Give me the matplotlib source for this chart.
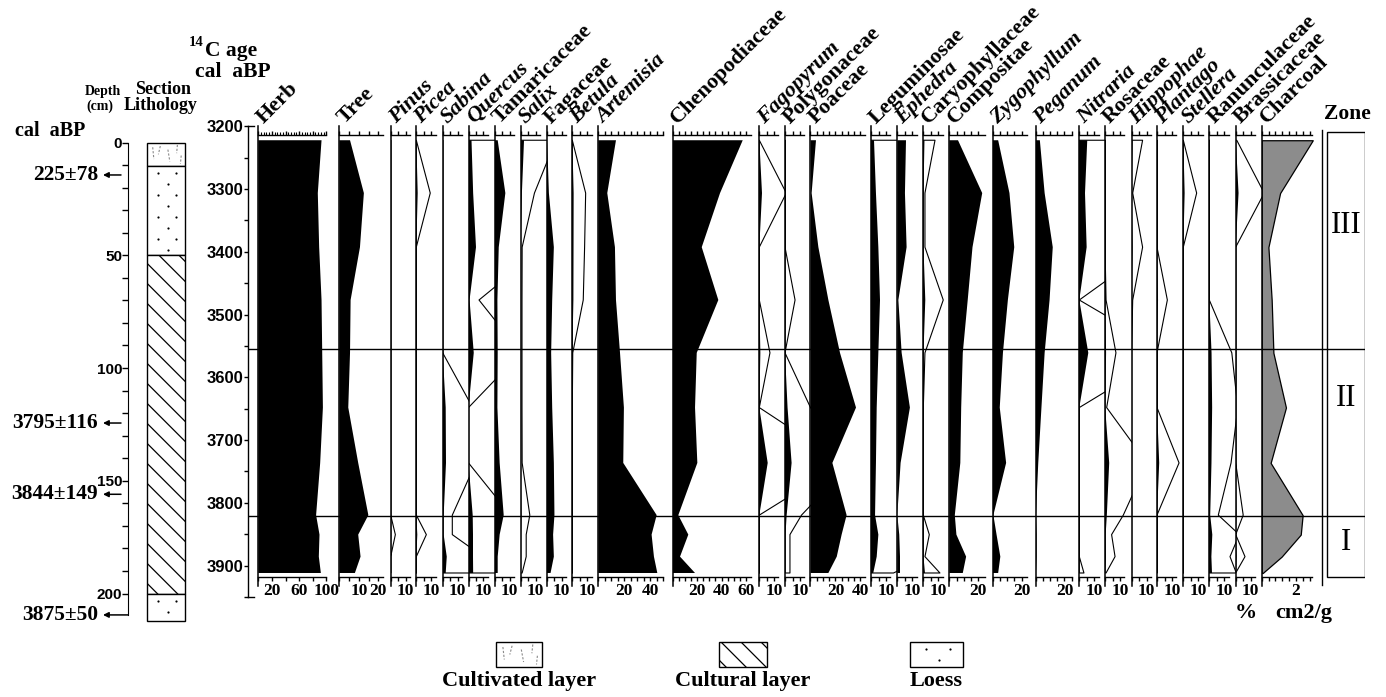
import numpy as np
import matplotlib
matplotlib.use("Agg")
import matplotlib.pyplot as plt
from matplotlib.patches import Rectangle

plt.rcParams["font.family"] = ["Liberation Serif", "DejaVu Serif"]
plt.rcParams["font.weight"] = "bold"

# ---------------- data ----------------
# sample ages (cal aBP)
ages = [3222, 3306, 3392, 3476, 3560, 3647, 3735, 3818, 3849, 3884, 3910]

# pollen percentages per sample
herb = [93.0, 87.5, 89.5, 93.0, 94.0, 95.0, 91.0, 85.0, 90.0, 89.0, 92.0]
tree = [5.5, 12.6, 10.6, 5.8, 5.5, 4.6, 9.7, 14.9, 9.7, 10.9, 8.0]
pinus = [0, 0, 0, 0, 0, 0, 0, 0, 0.31, 0, 0]
picea = [0, 0.93, 0, 0, 0, 0, 0, 0, 0.67, 0, 0]
sabina = [0, 0, 0, 0, 0, 2.0, 2.2, 0.64, 0.64, 2.7, 2.0]
quercus = [2.0, 3.1, 5.0, 0.7, 3.5, 0, 0, 2.8, 3.0, 3.0, 3.1]
tamaricaceae = [2.0, 7.1, 2.7, 1.8, 2.0, 1.8, 3.3, 6.0, 3.3, 2.0, 2.0]
salix = [2.35, 0.93, 0.11, 0.1, 0.1, 0.1, 0.11, 0.62, 0.38, 0.38, 0.11]
fagaceae = [0.4, 1.6, 4.9, 3.8, 3.1, 3.8, 4.9, 5.3, 4.4, 4.9, 2.7]
betula = [0, 0.89, 0.82, 0.73, 0.03, 0, 0, 0, 0, 0, 0]
artemisia = [13.6, 6.9, 12.8, 13.6, 16.7, 19.7, 19.2, 44.9, 41.0, 42.8, 45.4]
chenopodiaceae = [57.4, 38.8, 23.8, 37.4, 19.7, 18.3, 20.2, 4.6, 12.8, 6.0, 18.3]
fagopyrum = [0, 1.8, 0, 0, 0.71, 0, 5.6, 0, 0, 0, 0]
polygonaceae = [0, 0, 0, 0.67, 0, 1.7, 4.4, 1.1, 0.33, 0.33, 0.33]
poaceae = [4.4, 0.9, 6.3, 14.3, 23.6, 36.4, 17.5, 28.9, 24.9, 21.0, 14.3]
leguminosae = [2.0, 3.3, 4.9, 6.0, 4.9, 3.8, 3.3, 2.7, 4.9, 3.8, 1.5]
ephedra = [5.8, 5.1, 6.2, 0.7, 2.9, 8.4, 2.2, 0, 1.3, 1.8, 1.8]
caryophyllaceae = [0.78, 0.11, 0.11, 1.33, 0.11, 0, 0, 0, 0.4, 0.11, 1.11]
compositae = [6.0, 22.7, 16.0, 12.7, 9.3, 8.2, 7.6, 3.8, 4.9, 11.6, 9.3]
zygophyllum = [3.9, 11.7, 15.0, 10.6, 7.2, 5.0, 9.4, 0.6, 2.8, 5.4, 3.9]
peganum = [3.0, 6.3, 11.9, 9.7, 6.3, 4.1, 1.9, 0.3, 0.8, 0.8, 0.3]
nitraria = [5.3, 3.8, 4.9, 0, 6.0, 0, 0, 0, 0, 0, 0.31]
rosaceae = [0, 0, 0, 0.07, 0.73, 0.11, 2.8, 1.22, 0.44, 0.67, 0.07]
hippophae = [0.74, 0.08, 0.74, 0.08, 0, 0, 0, 0, 0, 0, 0]
plantago = [0, 0, 0, 0.69, 0, 0, 1.47, 0, 0, 0, 0]
stellera = [0, 0.89, 0, 0, 0, 0, 0, 0, 0, 0, 0]
ranunculaceae = [0, 0, 0, 0, 1.5, 1.9, 1.45, 0.6, 2.0, 1.38, 1.8]
brassicaceae = [0.07, 1.9, 0, 0, 0, 0, 0, 0.5, 0, 0.62, 0]
# charcoal concentration (cm2/g)
charcoal = [2.97, 1.07, 0.39, 0.58, 0.68, 1.41, 0.52, 2.38, 2.27, 1.16, 0.06]

taxa = ["Herb", "Tree", "Pinus", "Picea", "Sabina", "Quercus", "Tamaricaceae",
        "Salix", "Fagaceae", "Betula", "Artemisia", "Chenopodiaceae",
        "Fagopyrum", "Polygonaceae", "Poaceae", "Leguminosae", "Ephedra",
        "Caryophyllaceae", "Compositae", "Zygophyllum", "Peganum", "Nitraria",
        "Rosaceae", "Hippophae", "Plantago", "Stellera", "Ranunculaceae",
        "Brassicaceae", "Charcoal"]
series = [herb, tree, pinus, picea, sabina, quercus, tamaricaceae, salix,
          fagaceae, betula, artemisia, chenopodiaceae, fagopyrum, polygonaceae,
          poaceae, leguminosae, ephedra, caryophyllaceae, compositae,
          zygophyllum, peganum, nitraria, rosaceae, hippophae, plantago,
          stellera, ranunculaceae, brassicaceae, charcoal]

italic = {"Pinus", "Picea", "Sabina", "Quercus", "Salix", "Betula", "Artemisia",
          "Fagopyrum", "Ephedra", "Zygophyllum", "Peganum", "Nitraria",
          "Hippophae", "Plantago", "Stellera"}
# taxa drawn with a x10 exaggeration outline
exaggerated = {"Pinus", "Picea", "Sabina", "Quercus", "Salix", "Betula",
               "Fagopyrum", "Polygonaceae", "Leguminosae", "Caryophyllaceae",
               "Nitraria", "Rosaceae", "Hippophae", "Plantago", "Stellera",
               "Ranunculaceae", "Brassicaceae"}
EXAG = 10

zone_names = ["III", "II", "I"]
zone_label_ages = [3357, 3632, 3862]
zone_bounds = [3554, 3819]

# lithology column (depth in cm)
litho_kind = ["cultivated", "loess", "cultural", "loess"]
litho_top = [0, 10.5, 50, 200]
litho_base = [10.5, 50, 200, 212]

date_labels = ["225\u00b178", "3795\u00b1116", "3844\u00b1149", "3875\u00b150"]
date_depths = [14.4, 124.4, 156.0, 209.5]

legend_kinds = ["cultivated", "cultural", "loess"]
legend_names = ["Cultivated layer", "Cultural layer", "Loess"]

# ---------------- layout ----------------
W, H = 1386, 697
fig = plt.figure(figsize=(W / 100, H / 100), dpi=100)

panel_left = [258.3, 339.3, 390.7, 416.3, 442.7, 468.5, 494.7, 520.5, 546.5,
              572.3, 598.3, 672.7, 759.3, 785.0, 810.5, 871.0, 897.3, 923.3,
              949.3, 992.5, 1035.5, 1079.3, 1105.0, 1131.5, 1157.0, 1183.3,
              1209.3, 1235.7, 1261.7]
SEP_X = 1321.7

px_per_unit = {"Herb": 0.68, "Tree": 1.95, "Artemisia": 1.3,
               "Chenopodiaceae": 1.22, "Poaceae": 1.25, "Compositae": 1.45,
               "Zygophyllum": 1.45, "Peganum": 1.45, "Charcoal": 17.2}
scale_end = {"Herb": 100, "Tree": 22.5, "Artemisia": 50, "Chenopodiaceae": 64,
             "Poaceae": 44, "Compositae": 24.5, "Zygophyllum": 23.5,
             "Peganum": 25, "Charcoal": 2.9}
tick_step = {"Herb": 20, "Charcoal": 0.4}
tick_marked = {"Herb": [20, 60, 100], "Tree": [10, 20], "Artemisia": [20, 40],
               "Chenopodiaceae": [20, 40, 60], "Poaceae": [20, 40],
               "Compositae": [20], "Zygophyllum": [20], "Peganum": [20],
               "Charcoal": [2]}

Y3200, PX_YR = 126.4, 0.629
TOP_AGE, BOT_AGE = 3214, 3916


def age_px(a):
    return Y3200 + (a - 3200) * PX_YR


def box(x0, x1, y0, y1):
    return fig.add_axes([x0 / W, 1 - y1 / H, (x1 - x0) / W, (y1 - y0) / H])


def ftext(x, y, s, **kw):
    return fig.text(x / W, 1 - y / H, s, **kw)


# ---------------- pollen panels ----------------
edges = panel_left[1:] + [SEP_X]
for name, vals, x0, x1 in zip(taxa, series, panel_left, edges):
    k = px_per_unit.get(name, 1.5)
    end = scale_end.get(name, 12.8)
    ax = box(x0, x1, age_px(TOP_AGE), age_px(BOT_AGE))
    ax.set_xlim(0, (x1 - x0) / k)
    ax.set_ylim(BOT_AGE, TOP_AGE)
    ax.patch.set_visible(False)
    vals = np.asarray(vals, dtype=float)
    if name == "Charcoal":
        ax.fill_betweenx(ages, 0, vals, facecolor="#8c8c8c",
                         edgecolor="black", lw=0.9)
    else:
        ax.fill_betweenx(ages, 0, vals, facecolor="black", lw=0)
    if name in exaggerated:
        ax.fill_betweenx(ages, 0, vals * EXAG, facecolor="none",
                         edgecolor="black", lw=0.8)
    for s in ("left", "right"):
        ax.spines[s].set_visible(False)
    for s in ("top", "bottom"):
        ax.spines[s].set_bounds(0, end)
        ax.spines[s].set_linewidth(1.0)
    step = tick_step.get(name, 5)
    ticks = np.arange(0, end + 1e-9, step)
    marked = tick_marked.get(name, [10])
    ax.set_xticks(ticks)
    ax.set_xticklabels(["%g" % t if np.any(np.isclose(t, marked)) else ""
                        for t in ticks])
    if name == "Herb":
        ax.set_xticks(np.arange(0, 101, 4), minor=True)
        ax.tick_params(axis="x", which="minor", bottom=False, top=True,
                       direction="out", length=2.5, width=0.8)
    ax.tick_params(axis="x", which="major", top=True, direction="out",
                   length=3, width=1, pad=1.5, labelsize=12.5)
    ax.set_yticks([])
    ax.axvline(0, ymin=-0.02, ymax=1.02, color="black", lw=1.1, clip_on=False)
    ftext(x0 + 5, 124, name, fontsize=16, rotation=45,
          rotation_mode="anchor", ha="left", va="baseline",
          style="italic" if name in italic else "normal")

ftext(1246, 613, "%", fontsize=16, ha="center", va="center")
ftext(1304, 613, "cm2/g", fontsize=16, ha="center", va="center")

# ---------------- age axis ----------------
ax_age = box(248, 254, age_px(3200), age_px(3948))
ax_age.set_ylim(3948, 3200)
ax_age.set_xlim(0, 1)
ax_age.patch.set_visible(False)
ax_age.spines["right"].set_visible(False)
for s in ("left", "top", "bottom"):
    ax_age.spines[s].set_linewidth(1.0)
ax_age.set_xticks([])
ax_age.set_yticks(np.arange(3200, 3901, 100))
ax_age.set_yticks(np.arange(3250, 3951, 100), minor=True)
ax_age.tick_params(axis="y", which="both", direction="out", length=3,
                   width=1, pad=0.5, labelsize=12)
for lab in ax_age.get_yticklabels():
    lab.set_family(["Liberation Sans", "DejaVu Sans"])

ftext(189, 43, "14", fontsize=10.5, ha="left", va="center")
ftext(205, 51, "C age", fontsize=15.5, ha="left", va="center")
ftext(233, 72, "cal  aBP", fontsize=15.5, ha="center", va="center")

# ---------------- zones ----------------
zax = box(248, 1365, age_px(3200), age_px(3948))
zax.set_xlim(248, 1365)
zax.set_ylim(3948, 3200)
zax.axis("off")
for b in zone_bounds:
    zax.axhline(b, color="black", lw=1.0)
zax.add_patch(Rectangle((1326.7, 3208.4), 38.3, 3916 - 3208.4,
                        facecolor="none", edgecolor="black", lw=1.0))
zax.plot([SEP_X, SEP_X], [3205.7, 3929], color="black", lw=1.0)
for name, a in zip(zone_names, zone_label_ages):
    zax.text(1346, a, name, fontsize=22, fontweight="normal",
             ha="center", va="center")
ftext(1347, 114, "Zone", fontsize=15.5, ha="center", va="center")


# ---------------- lithology ----------------
def draw_litho(ax, kind, x0, x1, y0, y1, sy):
    rect = Rectangle((x0, y0), x1 - x0, y1 - y0, facecolor="white",
                     edgecolor="black", lw=1.0, zorder=2)
    ax.add_patch(rect)
    w = x1 - x0
    h = (y1 - y0) * sy
    if kind == "cultural":
        for c in np.arange(-w + 6, h, 20):
            xs = np.array([x0, x1])
            ys = y0 + (c + (xs - x0)) / sy
            ln, = ax.plot(xs, ys, color="black", lw=0.9, zorder=3)
            ln.set_clip_path(rect)
    elif kind == "loess":
        for r, yy in enumerate(np.arange(7, h - 3, 11)):
            fr = np.array([0.3, 0.75]) if r % 2 == 0 else np.array([0.55])
            ax.scatter(x0 + fr * w, np.full(len(fr), y0 + yy / sy), s=2.5,
                       color="black", lw=0, zorder=3)
    else:
        strokes = [(0.15, 0.2, 0.18, 0.7), (0.35, 0.15, 0.3, 0.5),
                   (0.55, 0.3, 0.6, 0.8), (0.8, 0.1, 0.78, 0.45),
                   (0.9, 0.55, 0.88, 0.9)]
        for a, b, c, d in strokes:
            ln, = ax.plot([x0 + a * w, x0 + c * w],
                          [y0 + b * (y1 - y0), y0 + d * (y1 - y0)],
                          color="#8a8a8a", lw=0.8, ls=(0, (2, 1.5)), zorder=3)
            ln.set_clip_path(rect)


D0, PX_CM = 142.5, 2.255
dep = box(60, 200, D0 - 6, D0 + 230 * PX_CM)
dep.set_xlim(60, 200)
dep.set_ylim(230, -6 / PX_CM)
dep.patch.set_visible(False)
for s in ("top", "right", "bottom"):
    dep.spines[s].set_visible(False)
dep.spines["left"].set_position(("data", 128))
dep.spines["left"].set_bounds(0, date_depths[-1])
dep.set_xticks([])
dep.set_yticks(np.arange(0, 201, 50))
dep.set_yticks(np.arange(0, 210, 10), minor=True)
dep.tick_params(axis="y", which="both", direction="out", length=4.3, width=1,
                labelsize=11, pad=0)
for lab in dep.get_yticklabels():
    lab.set_family(["Liberation Sans", "DejaVu Sans"])

for kind, t, b in zip(litho_kind, litho_top, litho_base):
    draw_litho(dep, kind, 147, 185, t, b, PX_CM)

for i, (lab, d) in enumerate(zip(date_labels, date_depths)):
    start = 128 if i == len(date_depths) - 1 else 121
    dep.annotate("", xy=(103, d), xytext=(start, d), annotation_clip=False,
                 arrowprops=dict(arrowstyle="-|>", color="black", lw=1.1,
                                 mutation_scale=8, shrinkA=0, shrinkB=0))
    dep.text(98, d, lab, fontsize=15.5, ha="right", va="center")

ftext(50, 131, "cal  aBP", fontsize=14.5, ha="center", va="center")
ftext(103, 91, "Depth", fontsize=10, ha="center", va="center")
ftext(100, 106, "(cm)", fontsize=10, ha="center", va="center")
ftext(163, 90, "Section", fontsize=13, ha="center", va="center")
ftext(161, 106, "Lithology", fontsize=13, ha="center", va="center")

# ---------------- legend ----------------
ov = fig.add_axes([0, 0, 1, 1])
ov.set_xlim(0, W)
ov.set_ylim(H, 0)
ov.axis("off")
legend_x = [496, 719, 910]
legend_w = [46, 48, 53]
for kind, name, lx, lw_ in zip(legend_kinds, legend_names, legend_x, legend_w):
    draw_litho(ov, kind, lx, lx + lw_, 642, 667, 1.0)
    ov.text(lx + lw_ / 2, 681, name, fontsize=16, ha="center", va="center")

fig.savefig("out.png", dpi=100)
